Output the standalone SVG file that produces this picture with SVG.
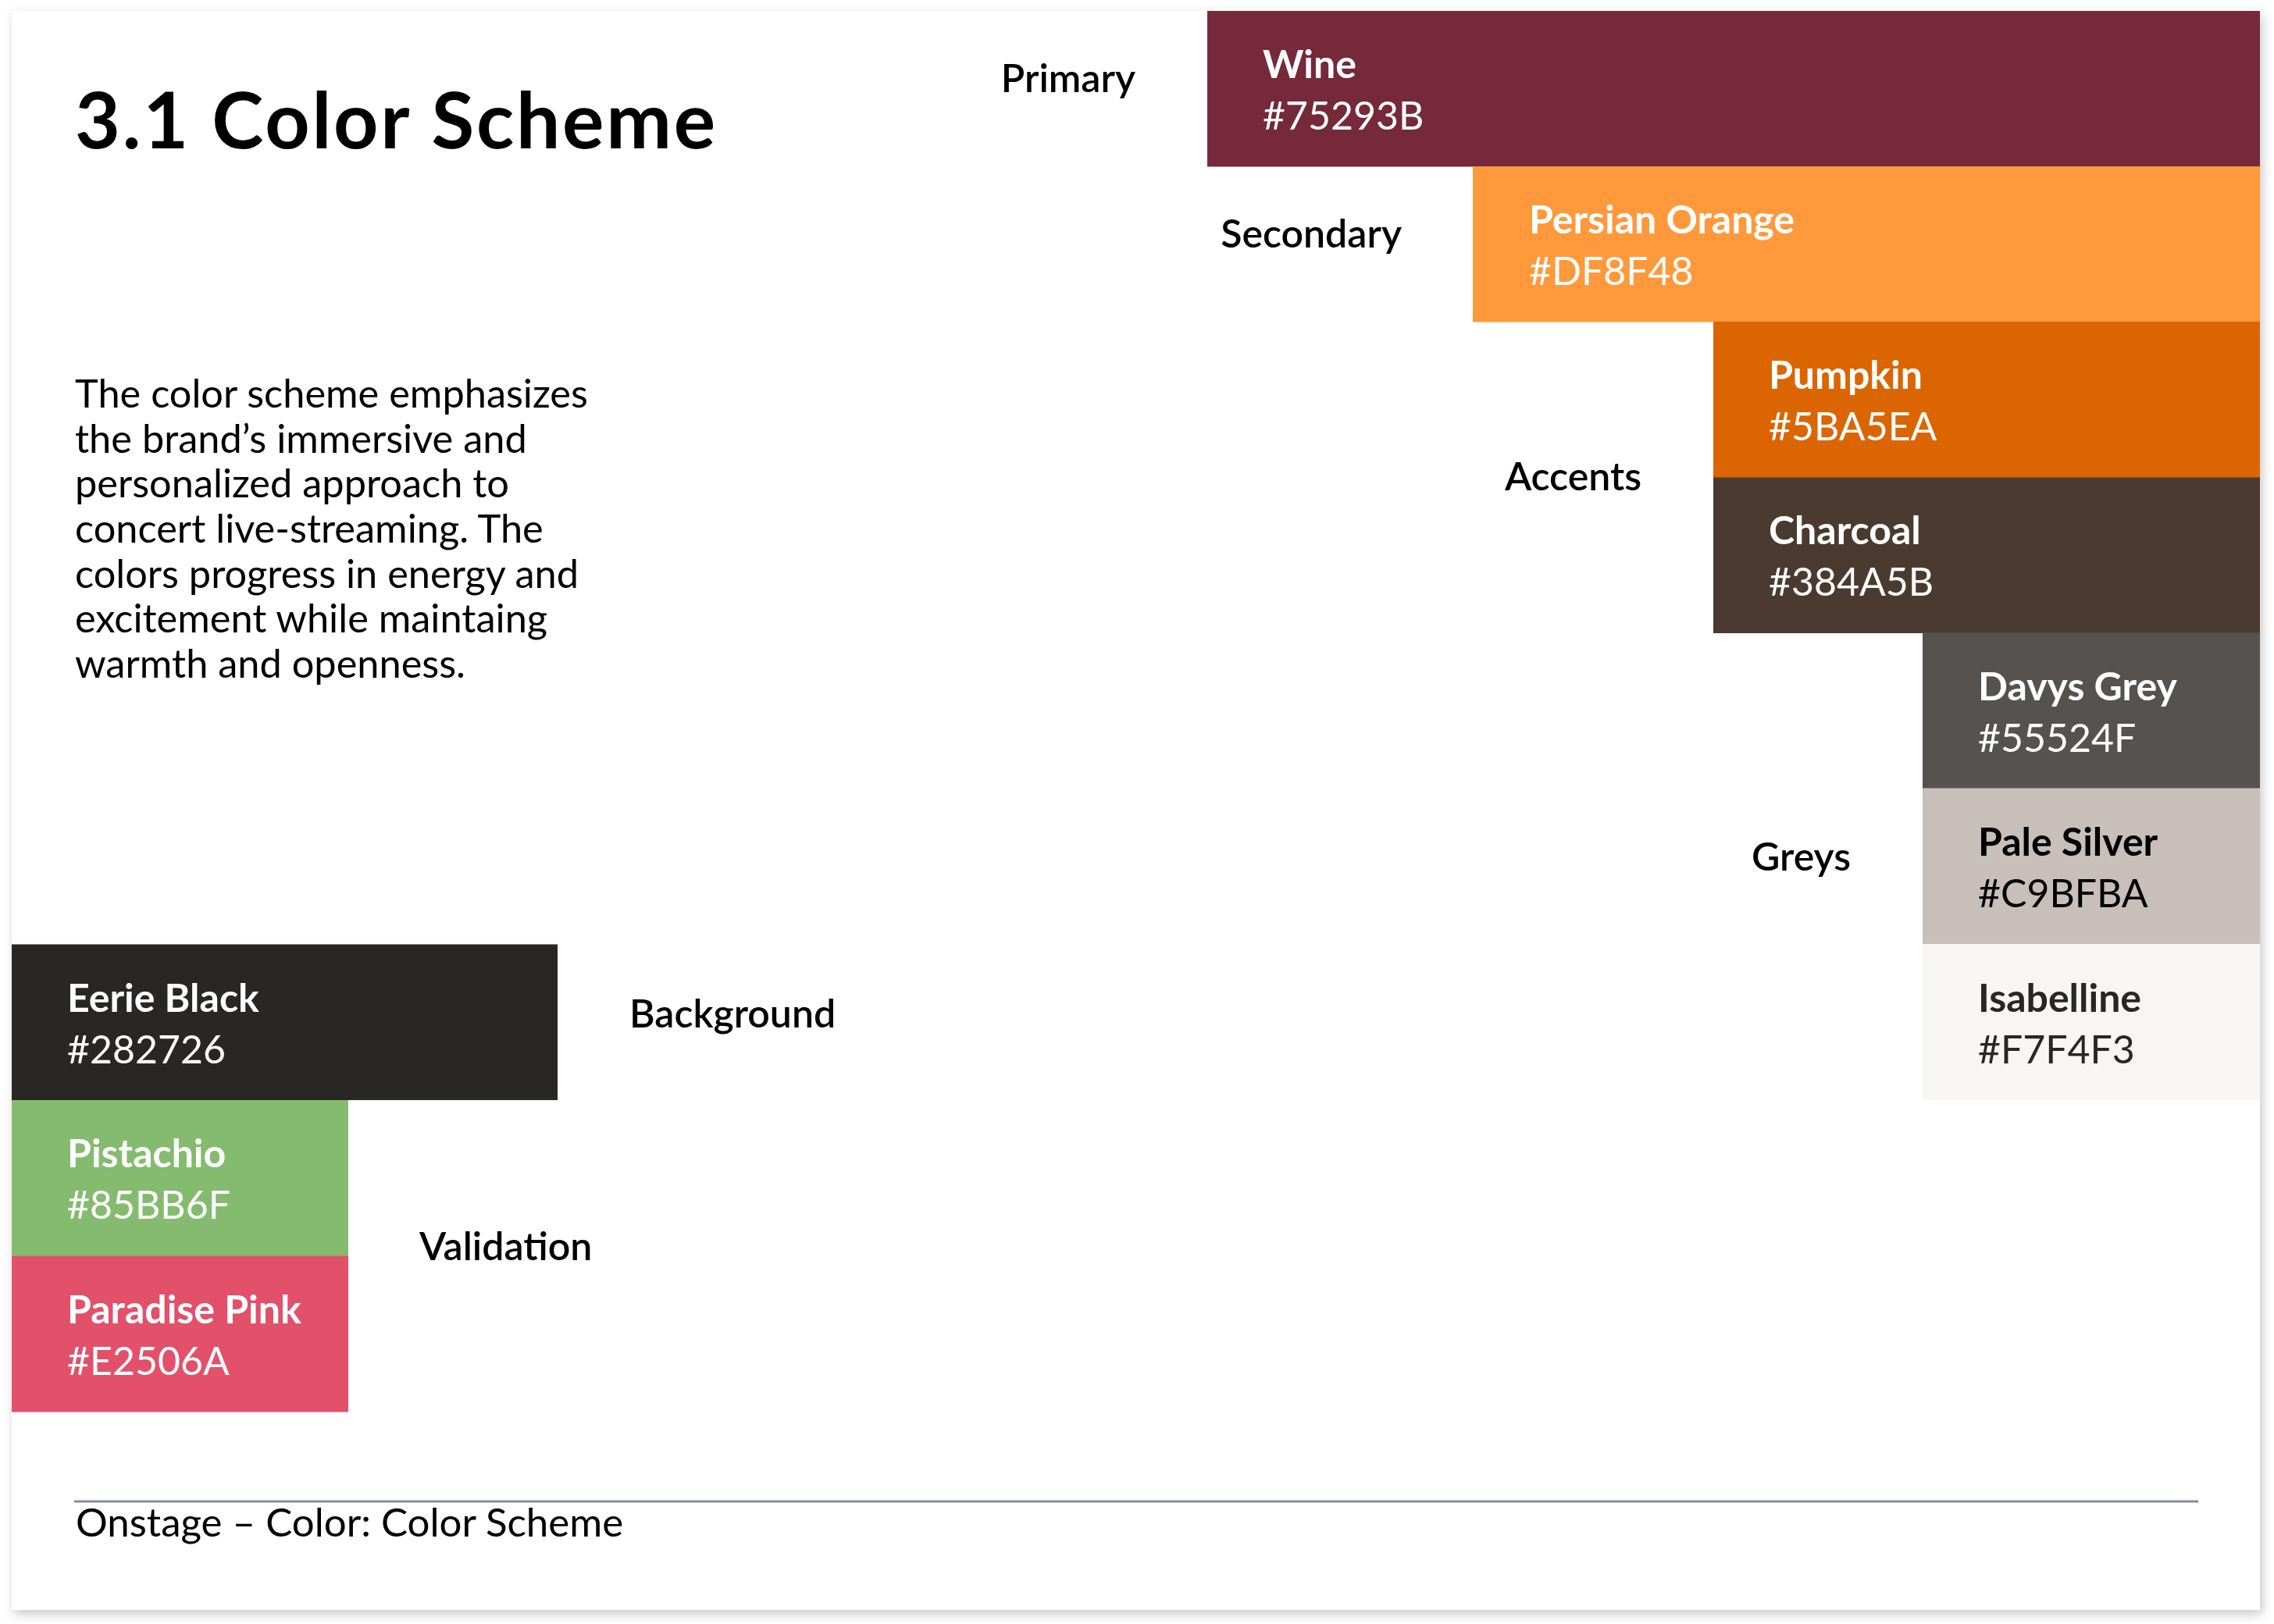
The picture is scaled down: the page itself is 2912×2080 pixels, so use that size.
<svg xmlns="http://www.w3.org/2000/svg" width="2912" height="2080" viewBox="0 0 2912 2080">
  <defs>
    <filter id="shadow" x="-5%" y="-5%" width="110%" height="110%">
      <feDropShadow dx="3" dy="5" stdDeviation="7" flood-color="#000" flood-opacity="0.22"/>
    </filter>
  </defs>
  <style>
    text { font-family: Lato, "Liberation Sans", sans-serif; }
    .title { font-size: 100px; font-weight: 700; fill: #000; letter-spacing: 2.8px; }
    .body { font-size: 50.5px; font-weight: 400; fill: #000; }
    .name { font-size: 50px; font-weight: 700; }
    .hex { font-size: 50px; font-weight: 400; }
    .label { font-size: 50px; font-weight: 600; fill: #000; }
    .light { fill: #ffffff; }
    .dark { fill: #000000; }
    .darker { fill: #282726; }
    .footer { font-size: 51px; font-weight: 400; fill: #000; }
  </style>
  <rect x="0" y="0" width="2912" height="2080" fill="#ffffff"/>
  <rect id="card" x="15" y="14" width="2879" height="2048" fill="#ffffff" filter="url(#shadow)"/>

  <text class="title" x="96" y="190">3.1 Color Scheme</text>

  <g id="description">
    <text class="body" x="96" y="522">The color scheme emphasizes</text>
    <text class="body" x="96" y="580">the brand’s immersive and</text>
    <text class="body" x="96" y="637">personalized approach to</text>
    <text class="body" x="96" y="695">concert live-streaming. The</text>
    <text class="body" x="96" y="753">colors progress in energy and</text>
    <text class="body" x="96" y="810">excitement while maintaing</text>
    <text class="body" x="96" y="868">warmth and openness.</text>
  </g>

  <g id="wine">
    <rect x="1546" y="14" width="1348" height="199.5" fill="#75293B"/>
    <text class="name light" x="1617" y="100">Wine</text>
    <text class="hex light" x="1617" y="166">#75293B</text>
  </g>
  <g id="persian-orange">
    <rect x="1886" y="213" width="1008" height="199.5" fill="#FF993B"/>
    <text class="name light" x="1958" y="299">Persian Orange</text>
    <text class="hex light" x="1958" y="365">#DF8F48</text>
  </g>
  <g id="pumpkin">
    <rect x="2194" y="412" width="700" height="200" fill="#DB6500"/>
    <text class="name light" x="2265" y="498">Pumpkin</text>
    <text class="hex light" x="2265" y="564">#5BA5EA</text>
  </g>
  <g id="charcoal">
    <rect x="2194" y="611.5" width="700" height="199.5" fill="#4B3A30"/>
    <text class="name light" x="2265" y="697">Charcoal</text>
    <text class="hex light" x="2265" y="763">#384A5B</text>
  </g>
  <g id="davys-grey">
    <rect x="2462" y="810.5" width="432" height="199.5" fill="#55524F"/>
    <text class="name light" x="2533" y="897">Davys Grey</text>
    <text class="hex light" x="2533" y="963">#55524F</text>
  </g>
  <g id="pale-silver">
    <rect x="2462" y="1009.5" width="432" height="200" fill="#C9BFBA"/>
    <text class="name dark" x="2533" y="1096">Pale Silver</text>
    <text class="hex dark" x="2533" y="1162">#C9BFBA</text>
  </g>
  <g id="isabelline">
    <rect x="2462" y="1209" width="432" height="199.5" fill="#F8F6F5"/>
    <text class="name darker" x="2533" y="1296">Isabelline</text>
    <text class="hex darker" x="2533" y="1362">#F7F4F3</text>
  </g>

  <g id="eerie-black">
    <rect x="15" y="1209.5" width="699" height="199.5" fill="#282726"/>
    <text class="name light" x="86" y="1296">Eerie Black</text>
    <text class="hex light" x="86" y="1362">#282726</text>
  </g>
  <g id="pistachio">
    <rect x="15" y="1409" width="431" height="200" fill="#85BB6F"/>
    <text class="name light" x="86" y="1495">Pistachio</text>
    <text class="hex light" x="86" y="1561">#85BB6F</text>
  </g>
  <g id="paradise-pink">
    <rect x="15" y="1608.5" width="431" height="200" fill="#E2506A"/>
    <text class="name light" x="86" y="1695">Paradise Pink</text>
    <text class="hex light" x="86" y="1761">#E2506A</text>
  </g>

  <g id="group-labels">
    <text class="label" x="1454" y="118" text-anchor="end">Primary</text>
    <text class="label" x="1795" y="317" text-anchor="end">Secondary</text>
    <text class="label" x="2102" y="628" text-anchor="end">Accents</text>
    <text class="label" x="2370" y="1115" text-anchor="end">Greys</text>
    <text class="label" x="806" y="1316">Background</text>
    <text class="label" x="537" y="1614">Validation</text>
  </g>

  <g id="footer">
    <line x1="95" y1="1923" x2="2815" y2="1923" stroke="#848E98" stroke-width="3"/>
    <text class="footer" x="97" y="1968">Onstage – Color: Color Scheme</text>
  </g>
</svg>
